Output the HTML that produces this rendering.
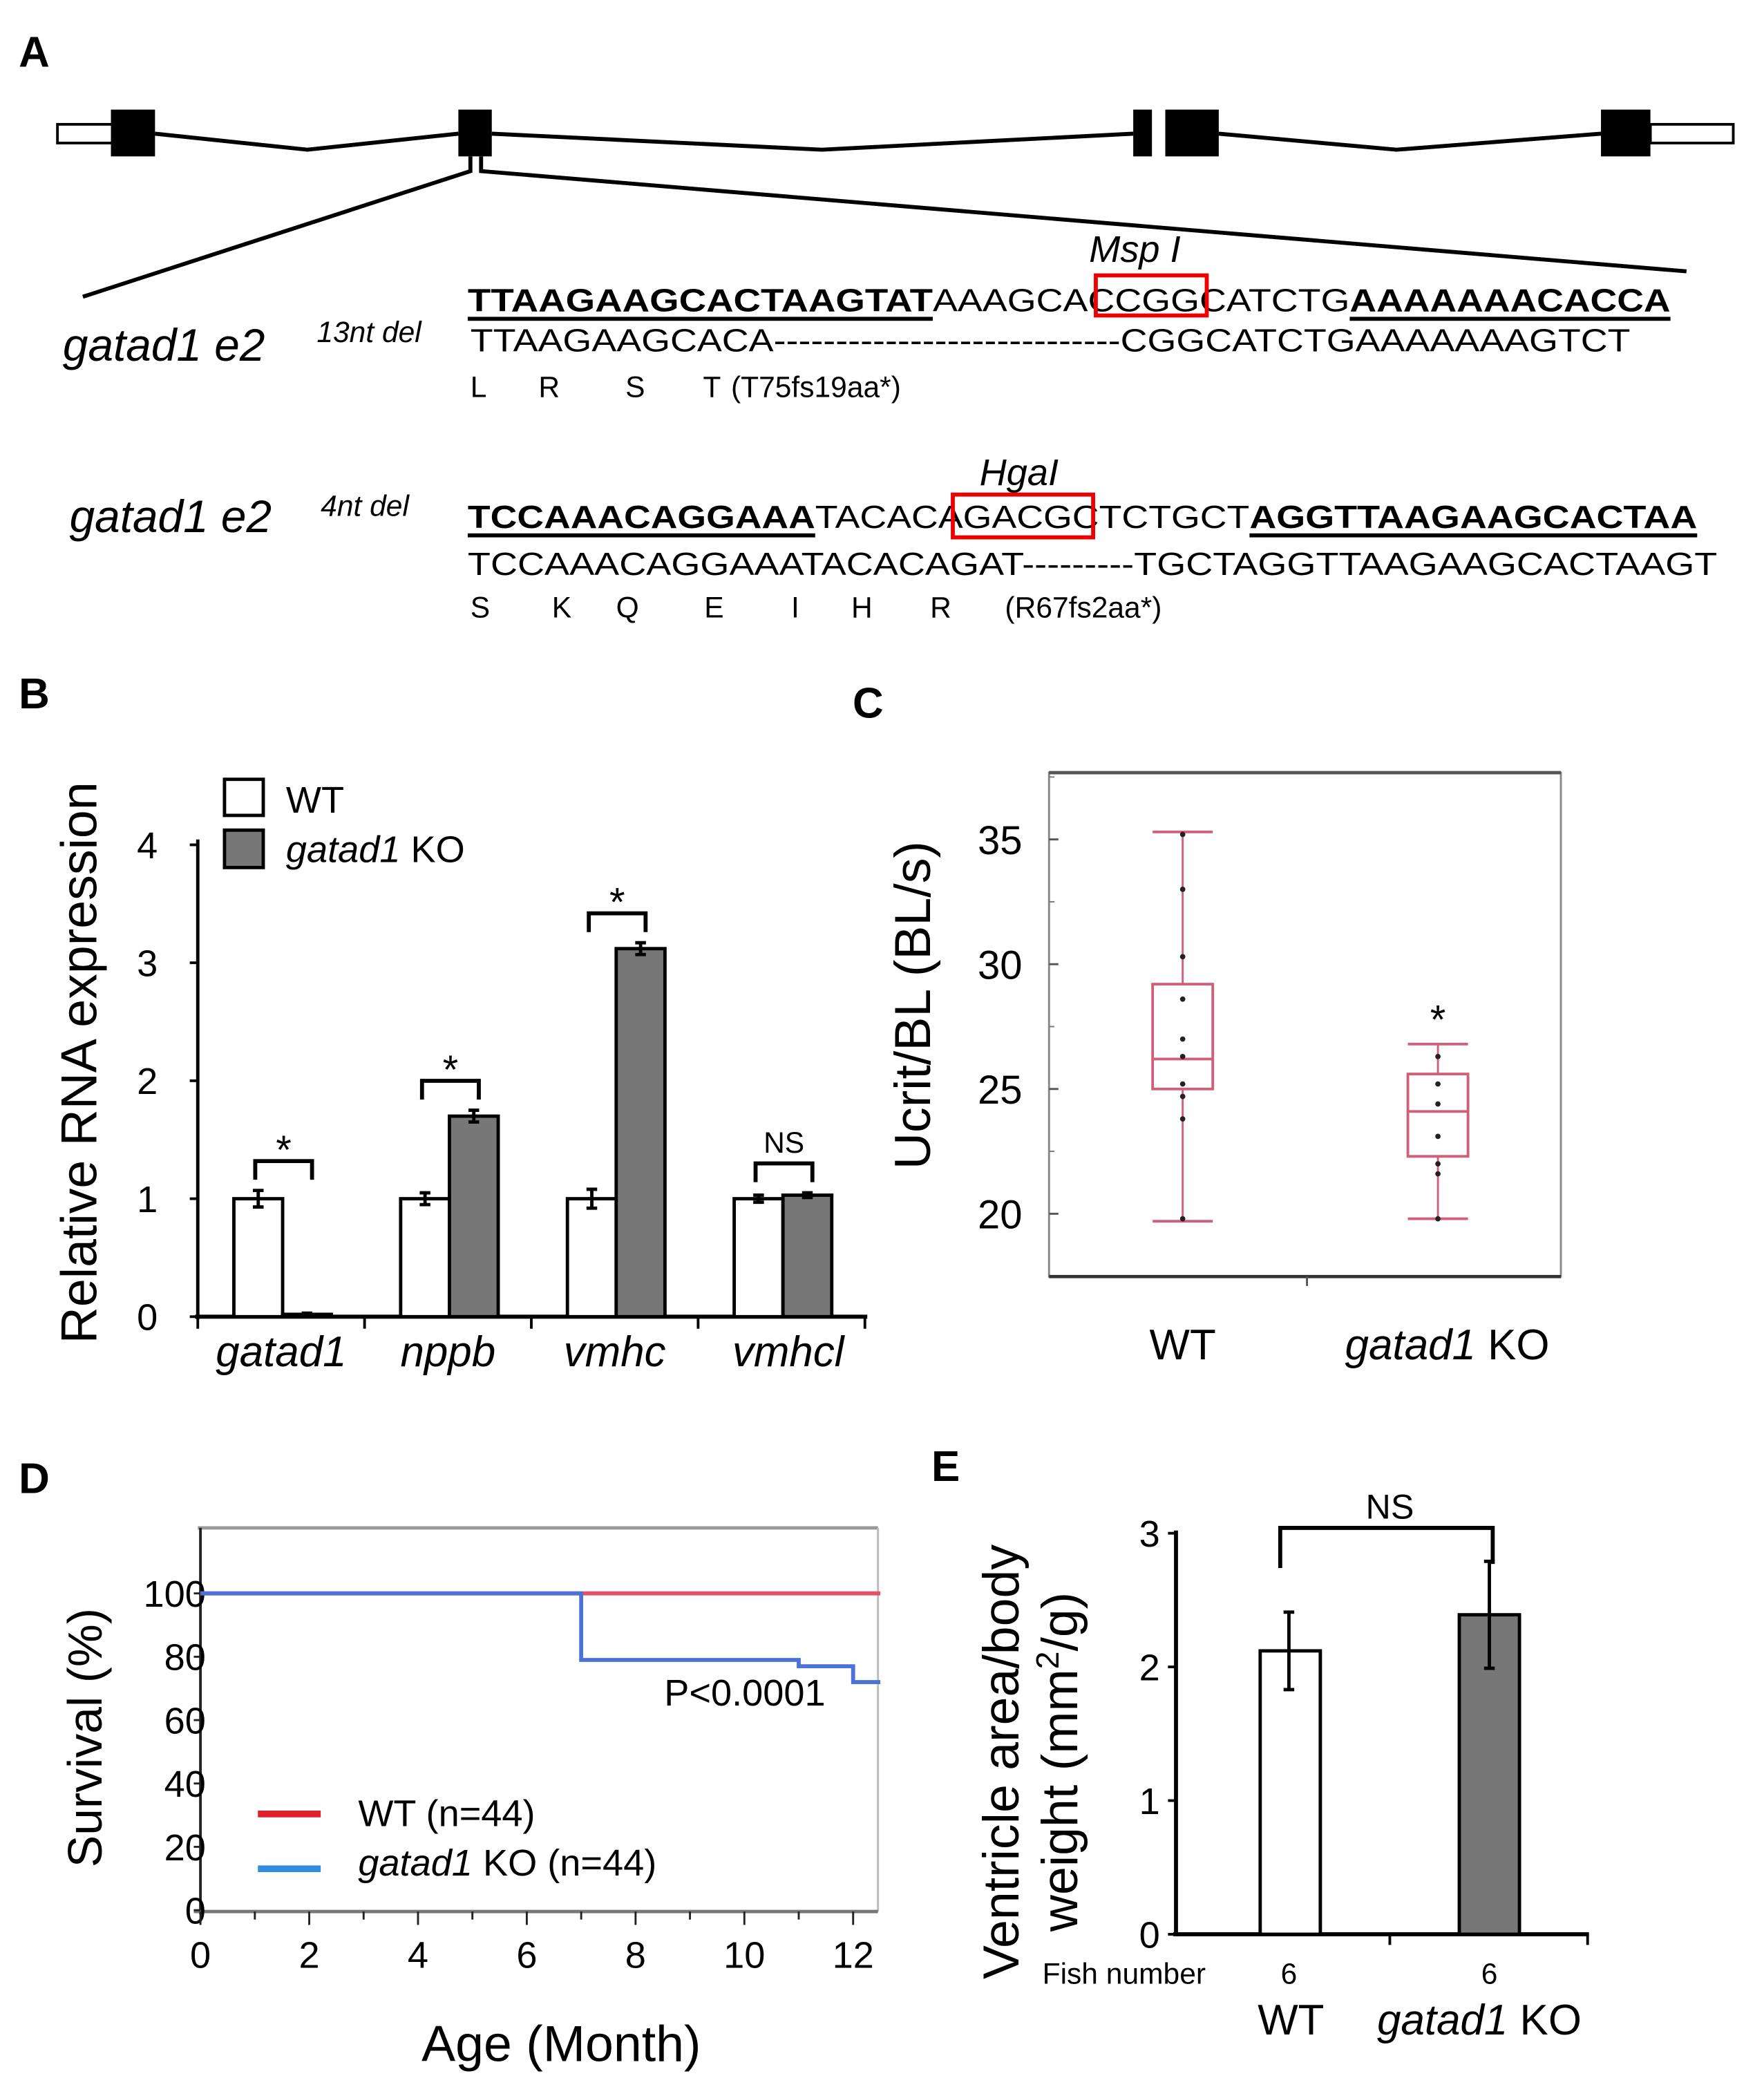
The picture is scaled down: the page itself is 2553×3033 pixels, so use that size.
<!DOCTYPE html>
<html><head><meta charset="utf-8"><style>
html,body{margin:0;padding:0;background:#fff}
svg{display:block;font-family:"Liberation Sans",Arial,sans-serif}
</style></head><body>
<svg id="fig" width="2553" height="3033" viewBox="0 0 1320 1568" preserveAspectRatio="none" xmlns="http://www.w3.org/2000/svg">
<rect width="1320" height="1568" fill="#fff"/>
<!-- Panel A -->
<g id="panelA">
<text x="14" y="50" font-size="32" font-weight="bold">A</text>
<rect x="43" y="93" width="42" height="14" fill="#fff" stroke="#000" stroke-width="2"/>
<rect x="1235" y="93" width="62" height="14" fill="#fff" stroke="#000" stroke-width="2"/>
<polyline points="116,100 230,112 343,100" fill="none" stroke="#000" stroke-width="3"/>
<polyline points="368,100 615,112 848,100" fill="none" stroke="#000" stroke-width="3"/>
<polyline points="912,100 1045,112 1198,100" fill="none" stroke="#000" stroke-width="3"/>
<rect x="83" y="82" width="33" height="35" fill="#000"/>
<rect x="343" y="82" width="25" height="35" fill="#000"/>
<rect x="848" y="82" width="14" height="35" fill="#000"/>
<rect x="872" y="82" width="40" height="35" fill="#000"/>
<rect x="1198" y="82" width="37" height="35" fill="#000"/>
<polyline points="352,117 352,128 62,222" fill="none" stroke="#000" stroke-width="3"/>
<polyline points="360,117 360,128 1262,203" fill="none" stroke="#000" stroke-width="3"/>

<text x="815" y="196" font-size="28" font-style="italic">Msp I</text>
<text x="350" y="233" font-size="24" font-weight="bold" textLength="348" lengthAdjust="spacingAndGlyphs">TTAAGAAGCACTAAGTAT</text>
<text x="698" y="233" font-size="24" textLength="312" lengthAdjust="spacingAndGlyphs">AAAGCACCGGCATCTG</text>
<text x="1010" y="233" font-size="24" font-weight="bold" textLength="240" lengthAdjust="spacingAndGlyphs">AAAAAAACACCA</text>
<rect x="350" y="237" width="348" height="3" fill="#000"/>
<rect x="1010" y="237" width="240" height="3" fill="#000"/>
<rect x="820" y="206" width="83" height="30" fill="none" stroke="#e00" stroke-width="3"/>
<text x="352" y="263" font-size="24" textLength="868" lengthAdjust="spacingAndGlyphs">TTAAGAAGCACA----------------------------CGGCATCTGAAAAAAAGTCT</text>
<text x="47" y="270" font-size="34" font-style="italic">gatad1 e2</text>
<text x="237" y="256" font-size="22" font-style="italic">13nt del</text>
<g font-size="22">
<text x="352" y="297">L</text><text x="403" y="297">R</text><text x="468" y="297">S</text><text x="526" y="297">T</text><text x="547" y="297">(T75fs19aa*)</text></g>

<text x="733" y="363" font-size="28" font-style="italic">HgaI</text>
<text x="52" y="398" font-size="34" font-style="italic">gatad1 e2</text>
<text x="240" y="386" font-size="22" font-style="italic">4nt del</text>
<text x="350" y="395" font-size="24" font-weight="bold" textLength="260" lengthAdjust="spacingAndGlyphs">TCCAAACAGGAAA</text>
<text x="610" y="395" font-size="24" textLength="325" lengthAdjust="spacingAndGlyphs">TACACAGACGCTCTGCT</text>
<text x="935" y="395" font-size="24" font-weight="bold" textLength="335" lengthAdjust="spacingAndGlyphs">AGGTTAAGAAGCACTAA</text>
<rect x="350" y="399" width="260" height="3" fill="#000"/>
<rect x="935" y="399" width="335" height="3" fill="#000"/>
<rect x="713" y="370" width="105" height="32" fill="none" stroke="#e00" stroke-width="3"/>
<text x="350" y="430" font-size="24" textLength="935" lengthAdjust="spacingAndGlyphs">TCCAAACAGGAAATACACAGAT---------TGCTAGGTTAAGAAGCACTAAGT</text>
<g font-size="22">
<text x="352" y="462">S</text><text x="413" y="462">K</text><text x="461" y="462">Q</text><text x="527" y="462">E</text><text x="592" y="462">I</text><text x="637" y="462">H</text><text x="696" y="462">R</text><text x="752" y="462">(R67fs2aa*)</text></g>
</g>

<text x="14" y="530" font-size="32" font-weight="bold">B</text>
<text x="638" y="537" font-size="32" font-weight="bold">C</text>
<text x="14" y="1117" font-size="32" font-weight="bold">D</text>
<text x="697" y="1108" font-size="32" font-weight="bold">E</text>
<g id="B"></g><g id="C"></g><g id="D"></g><g id="E"></g>
</svg>
<script>
// ---- Panel B data ----
const bGenes = ['gatad1','nppb','vmhc','vmhcl'];
const bWT = [1.0, 1.0, 1.0, 1.0];
const bWTerr = [0.07, 0.05, 0.08, 0.03];
const bKO = [0.02, 1.70, 3.12, 1.03];
const bKOerr = [0.01, 0.05, 0.05, 0.02];
const bSig = ['*','*','*','NS'];
const bTicks = [0,1,2,3,4];
// ---- Panel C data ----
const cGroups = ['WT','gatad1 KO'];
const cQ1 = [25.0, 22.3];
const cMed = [26.2, 24.1];
const cQ3 = [29.2, 25.6];
const cMin = [19.7, 19.8];
const cMax = [35.3, 26.8];
const cPtsWT = [35.2, 33.0, 30.3, 28.6, 27.0, 26.3, 25.2, 24.7, 23.8, 19.8];
const cPtsKO = [26.3, 25.2, 24.4, 23.1, 22.0, 21.6, 19.8];
const cTicks = [20,25,30,35];
// ---- Panel D data ----
const dWTx = [0, 12.5];
const dWTy = [100, 100];
const dKOx = [0, 7, 11, 12, 12.5];
const dKOy = [100, 79, 77, 72, 72];
const dYTicks = [0,20,40,60,80,100];
const dXTicks = [0,2,4,6,8,10,12];
// ---- Panel E data ----
const eGroups = ['WT','gatad1 KO'];
const eVals = [2.12, 2.39];
const eErr = [0.29, 0.40];
const eN = ['6','6'];
const eTicks = [0,1,2,3];

const NS='http://www.w3.org/2000/svg';
function mk(parent,tag,attrs,text){const e=document.createElementNS(NS,tag);for(const k in attrs)e.setAttribute(k,attrs[k]);if(text!==undefined)e.textContent=text;parent.appendChild(e);return e;}

// ===== Panel B =====
(function(){
const g=document.getElementById('B');
const y=v=>985-v*88.25, x0=148, gw=124.8;
let e;
e=mk(g,'line',{x1:148,y1:628,x2:148,y2:987,stroke:'#000','stroke-width':2.5});

e=mk(g,'line',{x1:146,y1:985,x2:649,y2:985,stroke:'#000','stroke-width':3});

bTicks.forEach(t=>{
 e=mk(g,'line',{x1:142,y1:y(t),x2:148,y2:y(t),stroke:'#000','stroke-width':2});
 
 e=mk(g,'text',{x:118,y:y(t)+10,'font-size':28,'text-anchor':'end'},String(t));
 
});
for(let i=0;i<=bGenes.length;i++){
 e=mk(g,'line',{x1:x0+i*gw,y1:985,x2:x0+i*gw,y2:994,stroke:'#000','stroke-width':2});
 
}
bGenes.forEach((gn,i)=>{
 const gx=x0+i*gw+27, bw=36.5;
 [[bWT[i],bWTerr[i],'#fff',gx],[bKO[i],bKOerr[i],'#777',gx+bw]].forEach((b,j)=>{
  e=mk(g,'rect',{x:b[3],y:y(b[0]),width:bw,height:985-y(b[0]),fill:b[2],stroke:'#000','stroke-width':2.5});
  
  const cx=b[3]+bw/2;
  e=mk(g,'path',{d:`M${cx},${y(b[0]+b[1])}V${y(b[0]-b[1])}M${cx-4},${y(b[0]+b[1])}h8M${cx-4},${y(b[0]-b[1])}h8`,stroke:'#000','stroke-width':2.5,fill:'none'});
  
 });
 const top=Math.max(bWT[i]+bWTerr[i],bKO[i]+bKOerr[i]);
 const by=y(top)-22, bl=gx+16, br=gx+bw+22;
 e=mk(g,'path',{d:`M${bl},${by+14}V${by}H${br}V${by+14}`,stroke:'#000','stroke-width':3,fill:'none'});
 
 e=mk(g,'text',{x:(bl+br)/2,y:bSig[i]=='NS'?by-8:by+2,'font-size':bSig[i]=='NS'?22:30,'text-anchor':'middle'},bSig[i]);
 
 e=mk(g,'text',{x:x0+i*gw+gw/2+(i==3?5:0),y:1022,'font-size':32,'font-style':'italic','text-anchor':'middle'},gn);
 
});
e=mk(g,'rect',{x:168,y:583,width:29,height:27,fill:'#fff',stroke:'#000','stroke-width':2.5});

e=mk(g,'rect',{x:168,y:621,width:29,height:28,fill:'#777',stroke:'#000','stroke-width':2.5});

e=mk(g,'text',{x:214,y:608,'font-size':28},'WT');

e=mk(g,'text',{x:214,y:645,'font-size':28});
e.innerHTML='<tspan font-style="italic">gatad1</tspan> KO';

e=mk(g,'text',{x:0,y:0,'font-size':38,'text-anchor':'middle',transform:'translate(72,795) rotate(-90)'},'Relative RNA expression');

})();

// ===== Panel C =====
(function(){
const g=document.getElementById('C');
const y=v=>908-(v-20)*18.67; const red='#d0607a';
let e;
e=mk(g,'rect',{x:785,y:578,width:383,height:377,fill:'none',stroke:'#888','stroke-width':1.5});

e=mk(g,'line',{x1:785,y1:578,x2:1168,y2:578,stroke:'#555','stroke-width':2.5});

e=mk(g,'line',{x1:785,y1:955,x2:1168,y2:955,stroke:'#333','stroke-width':2.5});

e=mk(g,'line',{x1:978,y1:955,x2:978,y2:962,stroke:'#555','stroke-width':1.5});

cTicks.forEach(t=>{
 e=mk(g,'line',{x1:785,y1:y(t),x2:792,y2:y(t),stroke:'#555','stroke-width':1.5});
 
 e=mk(g,'line',{x1:785,y1:y(t+2.5),x2:789,y2:y(t+2.5),stroke:'#777','stroke-width':1});
 
 e=mk(g,'text',{x:765,y:y(t)+11,'font-size':30,'text-anchor':'end'},String(t));
 
});
const pts=[cPtsWT,cPtsKO], cxs=[885,1076];
cGroups.forEach((gn,i)=>{
 const cx=cxs[i], hw=22.5;
 e=mk(g,'line',{x1:cx,y1:y(cMax[i]),x2:cx,y2:y(cMin[i]),stroke:red,'stroke-width':1.5});
 
 [cMax[i],cMin[i]].forEach(v=>{e=mk(g,'line',{x1:cx-hw,y1:y(v),x2:cx+hw,y2:y(v),stroke:red,'stroke-width':2});
  });
 e=mk(g,'rect',{x:cx-hw,y:y(cQ3[i]),width:2*hw,height:y(cQ1[i])-y(cQ3[i]),fill:'#fff',stroke:red,'stroke-width':2});
 
 e=mk(g,'line',{x1:cx-hw,y1:y(cMed[i]),x2:cx+hw,y2:y(cMed[i]),stroke:red,'stroke-width':2});
 
 pts[i].forEach(v=>{e=mk(g,'circle',{cx:cx,cy:y(v),r:2,fill:'#222'});
  });
 e=mk(g,'text',{x:cx+(i?7:0),y:1017,'font-size':32,'text-anchor':'middle'});
 e.innerHTML=i?'<tspan font-style="italic">gatad1</tspan> KO':'WT';
 
});
e=mk(g,'text',{x:1076,y:y(cMax[1])+0-8,'font-size':30,'text-anchor':'middle'},'*');

e=mk(g,'text',{x:0,y:0,'font-size':38,'text-anchor':'middle',transform:'translate(696,752) rotate(-90)'},'Ucrit/BL (BL/s)');

})();

// ===== Panel D =====
(function(){
const g=document.getElementById('D');
const x=v=>150+v*40.7, y=v=>1429-v*2.37;
let e;
e=mk(g,'line',{x1:148,y1:1143,x2:657,y2:1143,stroke:'#999','stroke-width':2.5});

e=mk(g,'line',{x1:657,y1:1143,x2:657,y2:1430,stroke:'#bbb','stroke-width':1.5});

e=mk(g,'line',{x1:150,y1:1143,x2:150,y2:1432,stroke:'#222','stroke-width':2});

e=mk(g,'line',{x1:145,y1:1430,x2:657,y2:1430,stroke:'#777','stroke-width':2.5});

dYTicks.forEach(t=>{
 e=mk(g,'line',{x1:145,y1:y(t),x2:150,y2:y(t),stroke:'#222','stroke-width':1.5});
 
 e=mk(g,'text',{x:154,y:y(t)+10,'font-size':28,'text-anchor':'end'},String(t));
 
});
for(let m=0;m<=12;m++){
 e=mk(g,'line',{x1:x(m),y1:1430,x2:x(m),y2:m%2?1436:1440,stroke:'#222','stroke-width':1.5});
 
}
dXTicks.forEach(t=>{
 e=mk(g,'text',{x:x(t),y:1472,'font-size':28,'text-anchor':'middle'},String(t));
 
});
function step(xs,ys){let d=`M${x(xs[0])},${y(ys[0])}`;for(let i=1;i<xs.length;i++){d+=`H${x(xs[i])}V${y(ys[i])}`;}return d;}
e=mk(g,'path',{d:step(dWTx,dWTy),stroke:'#e8506a',fill:'none','stroke-width':3});

e=mk(g,'path',{d:step(dKOx,dKOy),stroke:'#4a72d8',fill:'none','stroke-width':3});

e=mk(g,'text',{x:497,y:1276,'font-size':28},'P<0.0001');

e=mk(g,'line',{x1:193,y1:1357,x2:240,y2:1357,stroke:'#e0202a','stroke-width':5});

e=mk(g,'line',{x1:193,y1:1398,x2:240,y2:1398,stroke:'#2f8de0','stroke-width':5});

e=mk(g,'text',{x:268,y:1366,'font-size':28},'WT (n=44)');

e=mk(g,'text',{x:268,y:1403,'font-size':28});
e.innerHTML='<tspan font-style="italic">gatad1</tspan> KO (n=44)';

e=mk(g,'text',{x:0,y:0,'font-size':36,'text-anchor':'middle',transform:'translate(76,1300) rotate(-90)'},'Survival (%)');

e=mk(g,'text',{x:420,y:1542,'font-size':38,'text-anchor':'middle'},'Age (Month)');

})();

// ===== Panel E =====
(function(){
const g=document.getElementById('E');
const y=v=>1447-v*100;
let e;
e=mk(g,'line',{x1:880,y1:1145,x2:880,y2:1448,stroke:'#000','stroke-width':3});

e=mk(g,'line',{x1:878,y1:1447,x2:1189,y2:1447,stroke:'#000','stroke-width':3});

[1040,1188].forEach(tx=>{e=mk(g,'line',{x1:tx,y1:1447,x2:tx,y2:1455,stroke:'#000','stroke-width':2});
 });
eTicks.forEach(t=>{
 e=mk(g,'line',{x1:874,y1:y(t),x2:880,y2:y(t),stroke:'#000','stroke-width':2});
 
 e=mk(g,'text',{x:868,y:y(t)+10,'font-size':28,'text-anchor':'end'},String(t));
 
});
const xs=[943,1092], bw=45;
eGroups.forEach((gn,i)=>{
 e=mk(g,'rect',{x:xs[i],y:y(eVals[i]),width:bw,height:1447-y(eVals[i]),fill:i?'#777':'#fff',stroke:'#000','stroke-width':2.5});
 
 const cx=xs[i]+bw/2-(i?0:1);
 e=mk(g,'path',{d:`M${cx},${y(eVals[i]+eErr[i])}V${y(eVals[i]-eErr[i])}M${cx-4},${y(eVals[i]+eErr[i])}h8M${cx-4},${y(eVals[i]-eErr[i])}h8`,stroke:'#000','stroke-width':2.5,fill:'none'});
 
 e=mk(g,'text',{x:cx,y:1484,'font-size':22,'text-anchor':'middle'},eN[i]);
 
 e=mk(g,'text',{x:i?1107:966,y:1522,'font-size':32,'text-anchor':'middle'});
 e.innerHTML=i?'<tspan font-style="italic">gatad1</tspan> KO':'WT';
 
});
e=mk(g,'path',{d:'M958,1173V1143H1117V1170',stroke:'#000','stroke-width':3,fill:'none'});

e=mk(g,'text',{x:1040,y:1136,'font-size':26,'text-anchor':'middle'},'NS');

e=mk(g,'text',{x:780,y:1484,'font-size':22},'Fish number');

e=mk(g,'text',{x:0,y:0,'font-size':38,'text-anchor':'middle',transform:'translate(762,1318) rotate(-90)'},'Ventricle area/body');

e=mk(g,'text',{x:0,y:0,'font-size':38,'text-anchor':'middle',transform:'translate(806,1318) rotate(-90)'});
e.innerHTML='weight (mm<tspan font-size="24" dy="-14">2</tspan><tspan dy="14">/g)</tspan>';

})();
</script>
</body></html>
